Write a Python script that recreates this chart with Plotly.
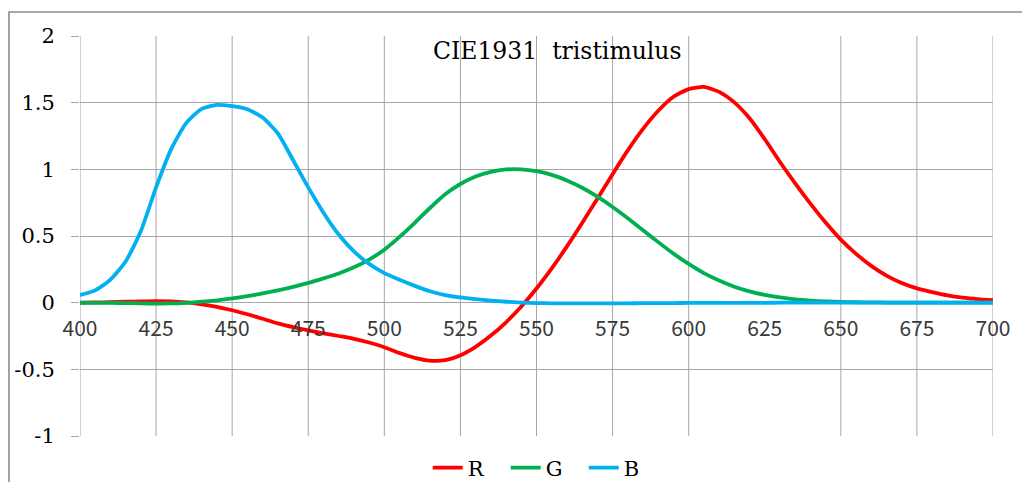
import plotly.graph_objects as go

# Wavelengths (nm) and colour-matching values, normalised so the G peak is 1
wavelength = [400, 405, 410, 415, 420, 425, 430, 435, 440, 445,
              450, 455, 460, 465, 470, 475, 480, 485, 490, 495,
              500, 505, 510, 515, 520, 525, 530, 535, 540, 545,
              550, 555, 560, 565, 570, 575, 580, 585, 590, 595,
              600, 605, 610, 615, 620, 625, 630, 635, 640, 645,
              650, 655, 660, 665, 670, 675, 680, 685, 690, 695, 700]

r_values = [0.001, 0.002, 0.004, 0.007, 0.010, 0.012, 0.010, 0.002, -0.012, -0.031,
            -0.057, -0.087, -0.121, -0.155, -0.183, -0.208, -0.230, -0.250, -0.271, -0.299,
            -0.334, -0.378, -0.414, -0.435, -0.431, -0.394, -0.331, -0.247, -0.147, -0.029,
            0.106, 0.257, 0.422, 0.598, 0.780, 0.964, 1.142, 1.303, 1.439, 1.544,
            1.602, 1.618, 1.581, 1.502, 1.383, 1.226, 1.055, 0.895, 0.743, 0.601,
            0.473, 0.366, 0.276, 0.203, 0.147, 0.107, 0.079, 0.055, 0.038, 0.027, 0.019]

g_values = [-0.001, -0.001, -0.002, -0.003, -0.005, -0.007, -0.006, -0.001, 0.007, 0.018,
            0.032, 0.049, 0.069, 0.092, 0.118, 0.148, 0.182, 0.219, 0.265, 0.323,
            0.397, 0.493, 0.599, 0.710, 0.813, 0.890, 0.946, 0.981, 0.999, 1.000,
            0.986, 0.958, 0.917, 0.862, 0.795, 0.718, 0.633, 0.544, 0.454, 0.368,
            0.291, 0.222, 0.166, 0.120, 0.085, 0.058, 0.039, 0.025, 0.016, 0.009,
            0.005, 0.003, 0.002, 0.001, 0.001, 0.000, 0.000, 0.000, 0.000, 0.000, 0.000]

b_values = [0.057, 0.092, 0.173, 0.309, 0.537, 0.865, 1.153, 1.350, 1.453, 1.483,
            1.474, 1.451, 1.388, 1.270, 1.070, 0.865, 0.675, 0.511, 0.384, 0.291,
            0.222, 0.172, 0.126, 0.086, 0.057, 0.039, 0.026, 0.015, 0.007, 0.001,
            -0.003, -0.005, -0.006, -0.006, -0.006, -0.006, -0.005, -0.004, -0.004, -0.003,
            -0.002, -0.002, -0.001, -0.001, -0.001, -0.001, 0.000, 0.000, 0.000, 0.000,
            0.000, 0.000, 0.000, 0.000, 0.000, 0.000, 0.000, 0.000, 0.000, 0.000, 0.000]

series_names = ["R", "G", "B"]
series_colors = ["#FF0000", "#00B050", "#00B0F0"]

x_ticks = [400, 425, 450, 475, 500, 525, 550, 575, 600, 625, 650, 675, 700]
x_grid = [400, 425, 450, 475, 500, 525, 550, 575, 600, 650, 675, 700]
y_ticks = [-1, -0.5, 0, 0.5, 1, 1.5, 2]
y_tick_text = ["-1", "-0.5", "0", "0.5", "1", "1.5", "2"]

title_text = "CIE1931\u00a0 tristimulus"

GRID = "#A6A6A6"
SERIF = "DejaVu Serif, serif"
SANS = "Noto Sans CJK JP, sans-serif"

fig = go.Figure()
for name, vals, col in zip(series_names, [r_values, g_values, b_values], series_colors):
    fig.add_trace(go.Scatter(
        x=wavelength, y=vals, mode="lines", name=name,
        line=dict(color=col, width=3.8, shape="spline", smoothing=0.6),
    ))

# vertical gridlines
shapes = []
for xv in x_grid:
    shapes.append(dict(type="line", xref="x", yref="paper", x0=xv, x1=xv, y0=0, y1=1,
                       line=dict(color=GRID, width=1), layer="below"))
# chart frame
shapes.append(dict(type="rect", xref="paper", yref="paper",
                   x0=-0.0778, x1=1.05, y0=-0.2, y1=1.06,
                   line=dict(color="#8C8C8C", width=1.6), layer="below"))

fig.update_layout(
    width=1022, height=482,
    margin=dict(l=80, r=29, t=36, b=46, autoexpand=False),
    paper_bgcolor="white", plot_bgcolor="white",
    showlegend=True,
    legend=dict(orientation="h", x=0.509, xanchor="center", y=-0.08, yanchor="middle",
                font=dict(family=SERIF, size=21, color="#000000"),
                entrywidth=33, entrywidthmode="pixels", bgcolor="rgba(0,0,0,0)"),
    shapes=shapes,
    annotations=[dict(text=title_text, xref="paper", yref="paper", x=0.523, y=0.963,
                      xanchor="center", yanchor="middle", showarrow=False,
                      font=dict(family=SERIF, size=23.5, color="#000000"))],
    xaxis=dict(range=[400, 700], tickvals=x_ticks, ticktext=[str(v) for v in x_ticks],
               showgrid=False, zeroline=False, showline=False, ticks="",
               anchor="free", position=1/3, ticklabelstandoff=11,
               tickfont=dict(family=SANS, size=21, color="#3A3A3A")),
    yaxis=dict(range=[-1, 2], tickvals=y_ticks, ticktext=y_tick_text,
               showgrid=True, gridcolor=GRID, gridwidth=1, zeroline=False,
               showline=False, ticks="outside", ticklen=8, tickcolor=GRID, tickwidth=1,
               ticklabelstandoff=12,
               tickfont=dict(family=SERIF, size=21, color="#000000")),
)

fig.write_html("out.html")
